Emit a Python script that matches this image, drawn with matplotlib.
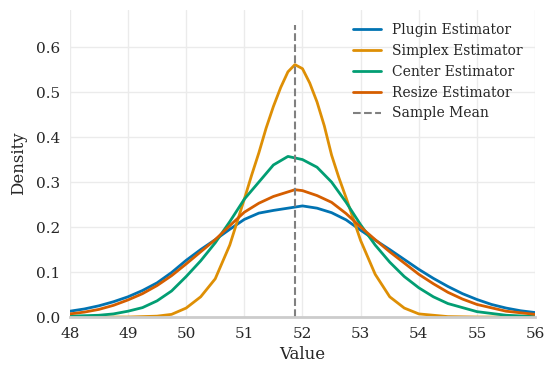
import numpy as np
import matplotlib
matplotlib.use("Agg")
import matplotlib.pyplot as plt
import seaborn as sns

sns.set_style("whitegrid")
plt.rcParams['font.family'] = ['DejaVu Serif']

# density curves
x_plugin = [48, 48.25, 48.5, 48.75, 49, 49.25, 49.5, 49.75, 50, 50.25, 50.5, 50.75, 51, 51.25, 51.5, 51.75, 52,
            52.25, 52.5, 52.75, 53, 53.25, 53.5, 53.75, 54, 54.25, 54.5, 54.75, 55, 55.25, 55.5, 55.75, 56]
y_plugin = [0.013, 0.018, 0.025, 0.034, 0.045, 0.059, 0.076, 0.099, 0.126, 0.15, 0.172, 0.195, 0.217, 0.231, 0.237,
            0.242, 0.247, 0.242, 0.232, 0.216, 0.193, 0.171, 0.15, 0.128, 0.106, 0.086, 0.068, 0.052, 0.039, 0.028,
            0.02, 0.014, 0.01]

x_simplex = [48, 49, 49.5, 49.75, 50, 50.25, 50.5, 50.75, 51, 51.125, 51.25, 51.375, 51.5, 51.625, 51.75, 51.87,
             52, 52.125, 52.25, 52.375, 52.5, 52.625, 52.75, 53, 53.25, 53.5, 53.75, 54, 54.5, 55, 56]
y_simplex = [0.0, 0.0, 0.002, 0.006, 0.02, 0.045, 0.085, 0.16, 0.262, 0.315, 0.365, 0.42, 0.468, 0.51, 0.545, 0.561,
             0.552, 0.52, 0.478, 0.425, 0.36, 0.31, 0.265, 0.17, 0.095, 0.045, 0.02, 0.007, 0.001, 0.0, 0.0]

x_center = [48, 48.5, 48.75, 49, 49.25, 49.5, 49.75, 50, 50.25, 50.5, 50.75, 51, 51.25, 51.5, 51.75, 52, 52.25,
            52.5, 52.75, 53, 53.25, 53.5, 53.75, 54, 54.25, 54.5, 55, 55.5, 56]
y_center = [0.002, 0.004, 0.007, 0.013, 0.021, 0.036, 0.058, 0.09, 0.125, 0.165, 0.212, 0.262, 0.3, 0.338, 0.357,
            0.35, 0.333, 0.3, 0.255, 0.205, 0.16, 0.122, 0.09, 0.065, 0.045, 0.03, 0.012, 0.004, 0.001]

x_resize = [48, 48.25, 48.5, 48.75, 49, 49.25, 49.5, 49.75, 50, 50.25, 50.5, 50.75, 51, 51.25, 51.5, 51.87, 52,
            52.25, 52.5, 52.75, 53, 53.25, 53.5, 53.75, 54, 54.25, 54.5, 54.75, 55, 55.5, 56]
y_resize = [0.007, 0.011, 0.017, 0.026, 0.038, 0.052, 0.07, 0.092, 0.118, 0.145, 0.172, 0.203, 0.233, 0.253, 0.268,
            0.283, 0.281, 0.27, 0.255, 0.23, 0.2, 0.172, 0.145, 0.12, 0.095, 0.074, 0.055, 0.04, 0.028, 0.013, 0.006]

sample_mean = 51.87

colors = sns.color_palette("colorblind")

fig = plt.figure(figsize=(5.54, 3.77), dpi=100)
ax = fig.add_axes([0.126, 0.159, 0.84, 0.814])

ax.plot(x_plugin, y_plugin, color=colors[0], lw=2, label="Plugin Estimator")
ax.plot(x_simplex, y_simplex, color=colors[1], lw=2, label="Simplex Estimator")
ax.plot(x_center, y_center, color=colors[2], lw=2, label="Center Estimator")
ax.plot(x_resize, y_resize, color=colors[3], lw=2, label="Resize Estimator")
ax.vlines(sample_mean, 0, 0.65, colors="gray", linestyles="--", lw=1.5, label="Sample Mean")

ax.set_xlim(48, 56)
ax.set_ylim(0, 0.682)
ax.set_xticks(range(48, 57))
ax.set_yticks([0.0, 0.1, 0.2, 0.3, 0.4, 0.5, 0.6])
ax.tick_params(labelsize=11)
ax.set_xlabel("Value", fontsize=12)
ax.set_ylabel("Density", fontsize=12, labelpad=6)
ax.grid(color="#ebebeb", lw=1)

for s in ["left", "right", "top"]:
    ax.spines[s].set_visible(False)
ax.spines["bottom"].set_color("#cccccc")
ax.spines["bottom"].set_linewidth(2)

ax.legend(loc="upper right", frameon=False, fontsize=10)

fig.savefig("out.png", dpi=100)
